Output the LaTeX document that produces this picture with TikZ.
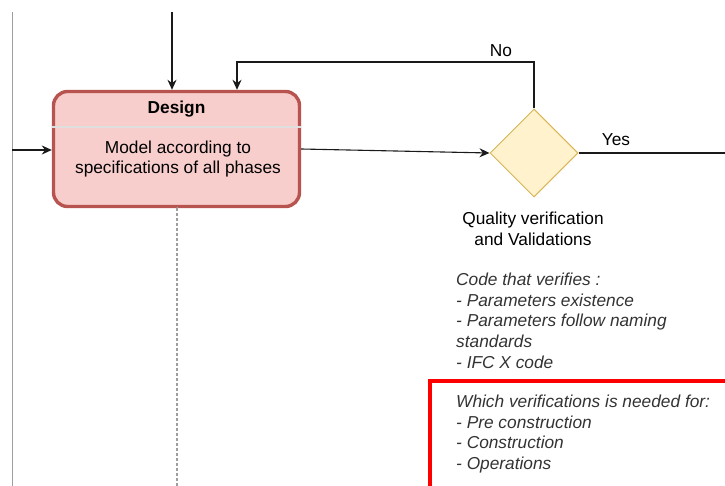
\documentclass[tikz,border=0pt]{standalone}
\usepackage{fontspec}
\setmainfont{Liberation Sans}
\usetikzlibrary{shapes.geometric,arrows.meta,calc}
\definecolor{designfill}{HTML}{F8CECC}
\definecolor{designline}{HTML}{B85450}
\definecolor{decfill}{HTML}{FFF2CC}
\definecolor{decline}{HTML}{D6B656}
\definecolor{laneline}{HTML}{9E9E9E}
\definecolor{notetext}{HTML}{333333}
\definecolor{inkline}{HTML}{1A1A1A}
\begin{document}
\begin{tikzpicture}[x=1pt,y=-1pt,
  font=\fontsize{17.3}{20.5}\selectfont,
  flow/.style={draw=inkline, line width=1.1pt, -{Stealth[length=10pt,width=9pt]}},
  plainline/.style={draw=inkline, line width=1.1pt},
  taskbox/.style={draw=designline, fill=designfill, line width=3.4pt,
    rounded corners=14pt, minimum width=246pt, minimum height=115pt, inner sep=0pt},
  decision/.style={diamond, draw=decline, fill=decfill, line width=1pt,
    minimum width=88pt, minimum height=88pt, inner sep=0pt},
  notestyle/.style={anchor=north west, align=left, text=notetext,
    font=\itshape\fontsize{17.3}{20.6}\selectfont, inner sep=0pt}]
\useasboundingbox (0,0) rectangle (725,486);
\clip (0,0) rectangle (725,486);

% swimlane border
\draw[laneline, line width=1pt] (12,12) -- (12,486);

% Design task
\node[taskbox] (design) at (176.5,149) {};
\draw[gray!25, line width=2.5pt] (design.west |- 0,127) -- (design.east |- 0,127);
\node[font=\bfseries\fontsize{17.3}{20}\selectfont] (title) at (176.5,109) {Design};
\node[align=center] (body) at (178,159) {Model according to\\specifications of all phases};

% decision gateway
\node[decision] (dec) at (534,153) {};
\node[align=center, font=\fontsize{17.3}{21}\selectfont] (declabel) at (533,229)
  {Quality verification\\and Validations};

% incoming flows
\coordinate (topin) at (172,12);
\coordinate (leftin) at (12,150);
\draw[flow] (topin) -- (topin |- design.north);
\draw[flow] (leftin) -- (design.west |- leftin);

% task to gateway
\draw[flow] (design.east) -- (dec.west);

% "No" loop back
\coordinate (noback) at (237,62);
\draw[flow] (dec.north) |- (noback) -- (noback |- design.north);
\node (nolabel) at (501,51) {No};

% "Yes" exit
\coordinate (yesout) at (725,153);
\draw[plainline] (dec.east) -- (yesout);
\node (yeslabel) at (616,140) {Yes};

% lifeline below the task
\coordinate (lifeend) at (177,486);
\draw[laneline, line width=1.6pt, dash pattern=on 3pt off 2pt] (design.south) -- (lifeend |- design.south) -- (lifeend);

% notes
\node[notestyle] (note) at (456,273)
  {Code that verifies :\\- Parameters existence\\- Parameters follow naming\\standards\\- IFC X code};
\draw[red, line width=4pt] (430,381) rectangle (760,520);
\node[notestyle] (note2) at (456,395)
  {Which verifications is needed for:\\- Pre construction\\- Construction\\- Operations};
\end{tikzpicture}
\end{document}
